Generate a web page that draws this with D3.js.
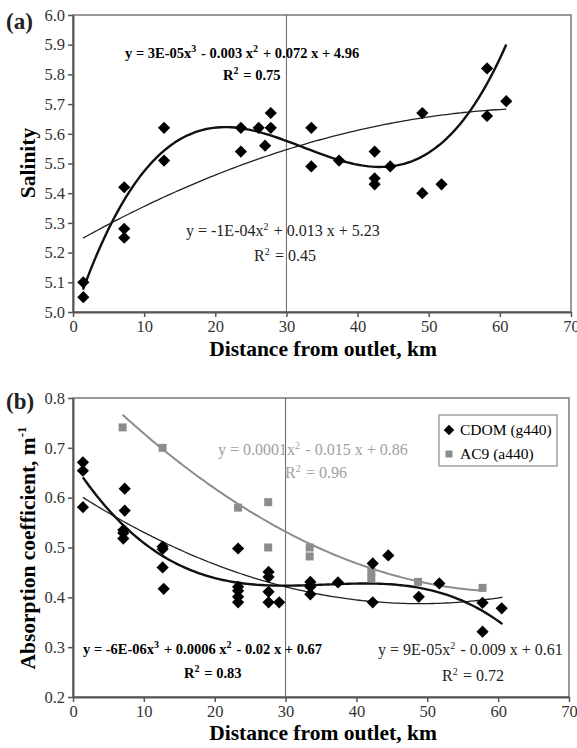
<!DOCTYPE html>
<html>
<meta charset="utf-8">
<head>
<style>
  body { margin: 0; background: #fff; }
  text { font-family: "Liberation Serif", "Times New Roman", serif; }
</style>
</head>
<body>
<script src="https://d3js.org/d3.v7.min.js"></script>
<script>

// panel (a) salinity data
var salDist = [1.45, 1.45, 7.2, 7.2, 7.2, 12.8, 12.8, 23.6, 23.6, 26.1, 27.0, 27.8, 27.8,
               33.5, 33.5, 37.4, 42.4, 42.4, 42.4, 44.6, 49.1, 49.1, 51.8, 58.2, 58.2, 60.9];
var salVal  = [5.10, 5.05, 5.42, 5.28, 5.25, 5.62, 5.51, 5.62, 5.54, 5.62, 5.56, 5.67, 5.62,
               5.62, 5.49, 5.51, 5.54, 5.45, 5.43, 5.49, 5.67, 5.40, 5.43, 5.82, 5.66, 5.71];

// trendlines of panel (a)
var salCubicX = [1.4, 5.6, 7.5, 9.4, 12.9, 15.5, 18.7, 21.6, 24.4, 27.2, 30.0, 32.8, 35.0,
                 37.4, 40.5, 43.3, 44.7, 48.0, 51.3, 53.6, 55.7, 58.3, 60.9];
var salCubicY = [5.052, 5.304, 5.416, 5.484, 5.545, 5.579, 5.607, 5.615, 5.613, 5.596, 5.568, 5.549, 5.535,
                 5.512, 5.495, 5.489, 5.487, 5.512, 5.568, 5.618, 5.675, 5.776, 5.888];
var salQuadX = [1.4, 5.6, 9.4, 14.1, 18.7, 23.4, 28.1, 31.9, 35.0, 39.5, 44.2, 48.9, 53.6, 57.4, 60.9];
var salQuadY = [5.246, 5.304, 5.355, 5.400, 5.444, 5.489, 5.534, 5.562, 5.577, 5.613, 5.635, 5.652, 5.669, 5.677, 5.682];

// panel (b) CDOM (g440)
var cdomDist = [1.4, 1.4, 1.4, 7.3, 7.3, 7.1, 7.1, 7.1, 12.65, 12.65, 12.65, 12.8,
                23.3, 23.3, 23.3, 23.3, 23.3, 27.6, 27.6, 27.6, 27.6, 29.1,
                33.5, 33.5, 33.5, 37.4, 42.3, 42.3, 44.5, 48.8, 51.7, 57.8, 57.8, 60.5];
var cdomVal  = [0.671, 0.654, 0.581, 0.618, 0.574, 0.535, 0.529, 0.518, 0.502, 0.497, 0.460, 0.417,
                0.498, 0.421, 0.413, 0.401, 0.390, 0.451, 0.441, 0.411, 0.390, 0.390,
                0.431, 0.421, 0.406, 0.430, 0.468, 0.390, 0.484, 0.401, 0.428, 0.389, 0.331, 0.378];

// panel (b) AC9 (a440)
var ac9Dist = [7.0, 12.65, 23.3, 27.55, 27.55, 33.4, 33.4, 42.1, 42.1, 48.7, 57.8];
var ac9Val  = [0.741, 0.700, 0.580, 0.591, 0.500, 0.500, 0.482, 0.451, 0.438, 0.431, 0.419];

// trendlines of panel (b)
var ac9QuadX = [7.0, 11.7, 16.4, 21.1, 25.8, 30.0, 35.0, 39.5, 44.2, 48.9, 53.6, 57.8];
var ac9QuadY = [0.753, 0.710, 0.666, 0.622, 0.572, 0.525, 0.488, 0.465, 0.445, 0.430, 0.421, 0.419];
var cdomCubicX = [1.4, 3.7, 7.0, 10.3, 14.1, 18.7, 23.4, 28.1, 35.0, 39.5, 44.2, 48.0, 51.3, 54.5, 57.4, 60.6];
var cdomCubicY = [0.642, 0.592, 0.545, 0.512, 0.475, 0.445, 0.426, 0.421, 0.422, 0.427, 0.427, 0.423, 0.415, 0.398, 0.374, 0.344];
var cdomQuadX = [1.4, 7.0, 11.7, 16.4, 21.1, 25.8, 30.5, 35.0, 39.5, 44.2, 48.9, 53.6, 57.4, 60.6];
var cdomQuadY = [0.600, 0.552, 0.518, 0.490, 0.462, 0.438, 0.418, 0.405, 0.394, 0.388, 0.388, 0.391, 0.394, 0.400];

var xTicks = [0, 10, 20, 30, 40, 50, 60, 70];
var salTicks = [5.0, 5.1, 5.2, 5.3, 5.4, 5.5, 5.6, 5.7, 5.8, 5.9, 6.0];
var absTicks = [0.2, 0.3, 0.4, 0.5, 0.6, 0.7, 0.8];

var W = 577, H = 748;
var svg = d3.select("body").append("svg").attr("width", W).attr("height", H);

// least squares polynomial, used to smooth the read-off trendline points
function polyfit(xs, ys, deg) {
  var n = deg + 1, A = [], i, j, k;
  for (i = 0; i < n; i++) {
    A.push([]);
    for (j = 0; j < n; j++) A[i].push(d3.sum(xs, function(x) { return Math.pow(x, i + j); }));
    A[i].push(d3.sum(xs, function(x, m) { return Math.pow(x, i) * ys[m]; }));
  }
  for (i = 0; i < n; i++) {
    for (k = i + 1; k < n; k++) {
      var f = A[k][i] / A[i][i];
      for (j = i; j <= n; j++) A[k][j] -= f * A[i][j];
    }
  }
  var c = new Array(n);
  for (i = n - 1; i >= 0; i--) {
    var s = A[i][n];
    for (j = i + 1; j < n; j++) s -= A[i][j] * c[j];
    c[i] = s / A[i][i];
  }
  return function(x) { var v = 0; for (var q = 0; q < n; q++) v += c[q] * Math.pow(x, q); return v; };
}

function trend(p, xs, ys, deg, color, width) {
  var f = polyfit(xs, ys, deg);
  var x0 = d3.min(xs), x1 = d3.max(xs);
  var pts = d3.range(0, 121).map(function(i) { return x0 + (x1 - x0) * i / 120; });
  p.g.append("path")
    .attr("d", d3.line().x(function(d) { return p.x(d); }).y(function(d) { return p.y(f(d)); })(pts))
    .attr("fill", "none").attr("stroke", color).attr("stroke-width", width)
    .attr("stroke-linejoin", "round");
}

function panel(box, yDomain, yTicks) {
  var x = d3.scaleLinear().domain([0, 70]).range([box.left, box.right]);
  var y = d3.scaleLinear().domain(yDomain).range([box.bottom, box.top]);
  var g = svg.append("g");

  g.append("rect")
    .attr("x", box.left).attr("y", box.top)
    .attr("width", box.right - box.left).attr("height", box.bottom - box.top)
    .attr("fill", "none").attr("stroke", "#777").attr("stroke-width", 1.5);

  g.append("line")
    .attr("x1", x(30)).attr("x2", x(30)).attr("y1", box.top).attr("y2", box.bottom)
    .attr("stroke", "#666").attr("stroke-width", 1);

  var xa = g.append("g").attr("transform", "translate(0," + box.bottom + ")")
    .call(d3.axisBottom(x).tickValues(xTicks).tickSize(5).tickSizeOuter(0));
  var ya = g.append("g").attr("transform", "translate(" + box.left + ",0)")
    .call(d3.axisLeft(y).tickValues(yTicks).tickFormat(d3.format(".1f")).tickSize(5).tickSizeOuter(0));
  [xa, ya].forEach(function(a) {
    a.select(".domain").attr("stroke", "#555").attr("stroke-width", 2);
    a.selectAll(".tick line").attr("stroke", "#555").attr("stroke-width", 1.5);
    a.selectAll(".tick text").attr("fill", "#333")
      .style("font-family", "Liberation Serif").style("font-size", "16.5px");
  });
  xa.selectAll(".tick text").attr("y", 8);
  ya.selectAll(".tick text").attr("x", -8);
  return { g: g, x: x, y: y };
}

function diamonds(p, xs, ys, size) {
  p.g.selectAll(null).data(xs).enter().append("path")
    .attr("d", d3.symbol().type(d3.symbolDiamond2).size(size))
    .attr("transform", function(d, i) { return "translate(" + p.x(d) + "," + p.y(ys[i]) + ")"; })
    .attr("fill", "#000");
}
function squares(p, xs, ys, size, color) {
  p.g.selectAll(null).data(xs).enter().append("rect")
    .attr("x", function(d) { return p.x(d) - size / 2; })
    .attr("y", function(d, i) { return p.y(ys[i]) - size / 2; })
    .attr("width", size).attr("height", size).attr("fill", color);
}

// text helper: parts = [[string, isSuperscript], ...]
function eq(x, y, parts, opts) {
  var t = svg.append("text").attr("x", x).attr("y", y)
    .attr("fill", opts.color || "#000")
    .style("font-size", (opts.size || 16) + "px")
    .style("font-weight", opts.bold ? "bold" : "normal");
  parts.forEach(function(pt) {
    if (pt[1]) {
      t.append("tspan").attr("dy", -6).style("font-size", "10px").text(pt[0]);
      t.append("tspan").attr("dy", 6).text("\u200a");
    } else {
      t.append("tspan").text(pt[0]);
    }
  });
  return t;
}

// ---------- panel (a) ----------
var pa = panel({ left: 73, right: 571, top: 15, bottom: 312 }, [5.0, 6.0], salTicks);
trend(pa, salQuadX, salQuadY, 2, "#222", 1.3);
trend(pa, salCubicX, salCubicY, 3, "#111", 2.4);
diamonds(pa, salDist, salVal, 95);

svg.append("text").attr("x", 6).attr("y", 29).text("(a)")
  .style("font-size", "23px").style("font-weight", "bold").attr("fill", "#222");
svg.append("text").attr("transform", "translate(35,163) rotate(-90)")
  .attr("text-anchor", "middle").style("font-size", "21.5px").style("font-weight", "bold")
  .text("Salinity");
svg.append("text").attr("x", 323).attr("y", 356).attr("text-anchor", "middle")
  .style("font-size", "21.5px").style("font-weight", "bold").text("Distance from outlet, km");

eq(125, 58, [["y = 3E-05x"], ["3", 1], [" - 0.003 x"], ["2", 1], [" + 0.072 x + 4.96"]], { bold: true, size: 14.5 });
eq(223, 80, [["R"], ["2", 1], [" = 0.75"]], { bold: true, size: 14.5 });
eq(186, 236, [["y = -1E-04x"], ["2", 1], [" + 0.013 x + 5.23"]], { color: "#222" });
eq(254, 261, [["R"], ["2", 1], [" = 0.45"]], { color: "#222" });

// ---------- panel (b) ----------
var pb = panel({ left: 73, right: 569, top: 398, bottom: 697 }, [0.2, 0.8], absTicks);
trend(pb, ac9QuadX, ac9QuadY, 2, "#8c8c8c", 2);
trend(pb, cdomQuadX, cdomQuadY, 2, "#222", 1.3);
trend(pb, cdomCubicX, cdomCubicY, 3, "#111", 2.4);
squares(pb, ac9Dist, ac9Val, 8, "#8c8c8c");
diamonds(pb, cdomDist, cdomVal, 95);

svg.append("text").attr("x", 6).attr("y", 409).text("(b)")
  .style("font-size", "23px").style("font-weight", "bold").attr("fill", "#222");
var yt = svg.append("text").attr("transform", "translate(35,548) rotate(-90)")
  .attr("text-anchor", "middle").style("font-size", "21.5px").style("font-weight", "bold");
yt.append("tspan").text("Absorption coefficient,  m");
yt.append("tspan").attr("dy", -9).style("font-size", "13px").text("-1");
svg.append("text").attr("x", 323).attr("y", 740).attr("text-anchor", "middle")
  .style("font-size", "21.5px").style("font-weight", "bold").text("Distance from outlet, km");

eq(218, 455, [["y = 0.0001x"], ["2", 1], [" - 0.015 x + 0.86"]], { color: "#a0a0a0" });
eq(285, 478, [["R"], ["2", 1], [" = 0.96"]], { color: "#a0a0a0" });
eq(83, 654, [["y = -6E-06x"], ["3", 1], [" + 0.0006 x"], ["2", 1], [" - 0.02 x + 0.67"]], { bold: true, size: 14.5 });
eq(184, 678, [["R"], ["2", 1], [" = 0.83"]], { bold: true, size: 14.5 });
eq(378, 655, [["y = 9E-05x"], ["2", 1], [" - 0.009 x + 0.61"]], { color: "#222" });
eq(442, 681, [["R"], ["2", 1], [" = 0.72"]], { color: "#222" });

// legend
var lg = svg.append("g");
lg.append("rect").attr("x", 439).attr("y", 415).attr("width", 118).attr("height", 51)
  .attr("fill", "#fff").attr("stroke", "#777").attr("stroke-width", 1);
lg.append("path").attr("d", d3.symbol().type(d3.symbolDiamond2).size(70))
  .attr("transform", "translate(449,430)").attr("fill", "#000");
lg.append("rect").attr("x", 445.5).attr("y", 450.5).attr("width", 7).attr("height", 7).attr("fill", "#8c8c8c");
lg.append("text").attr("x", 460).attr("y", 435).style("font-size", "15.5px").text("CDOM (g440)");
lg.append("text").attr("x", 460).attr("y", 459).style("font-size", "15.5px").text("AC9 (a440)");

</script>
</body>
</html>
